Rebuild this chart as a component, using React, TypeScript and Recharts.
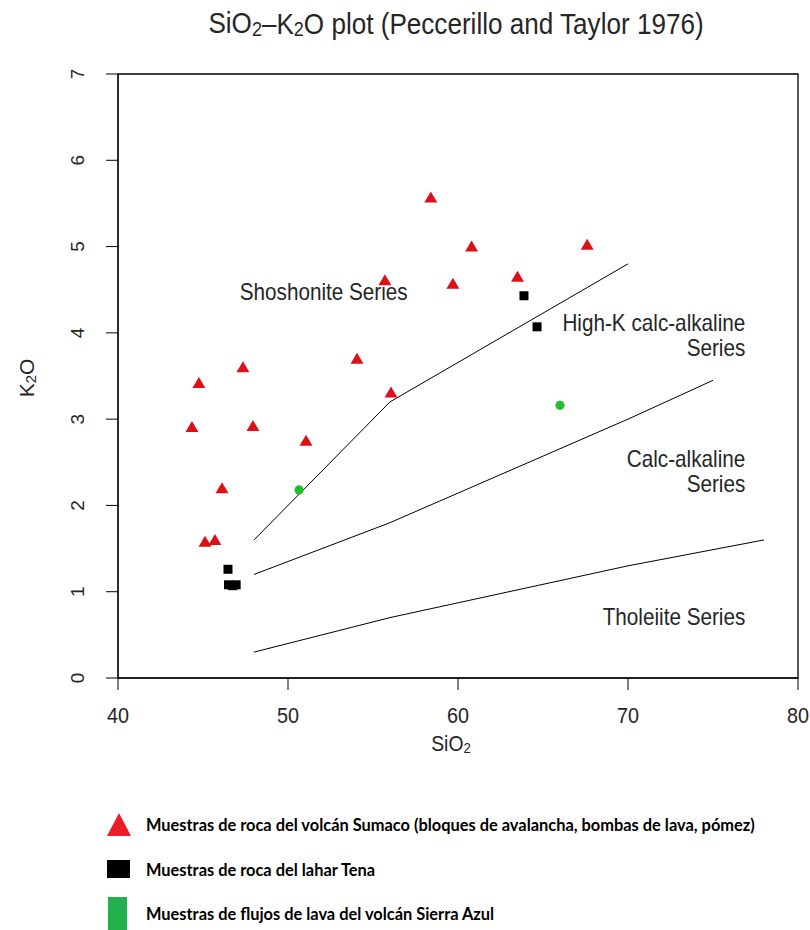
import { ScatterChart, Scatter, XAxis, YAxis, ReferenceArea } from "recharts";

// Muestras (SiO2 %, K2O %)
const sumaco = [
  { x: 44.35, y: 2.91 },
  { x: 44.76, y: 3.42 },
  { x: 45.12, y: 1.58 },
  { x: 45.7, y: 1.6 },
  { x: 46.12, y: 2.2 },
  { x: 47.35, y: 3.6 },
  { x: 47.94, y: 2.92 },
  { x: 51.06, y: 2.75 },
  { x: 54.06, y: 3.7 },
  { x: 55.7, y: 4.61 },
  { x: 56.06, y: 3.31 },
  { x: 58.4, y: 5.57 },
  { x: 59.7, y: 4.57 },
  { x: 60.8, y: 5.0 },
  { x: 63.5, y: 4.65 },
  { x: 67.6, y: 5.02 },
];

const tena = [
  { x: 46.47, y: 1.26 },
  { x: 46.5, y: 1.08 },
  { x: 46.75, y: 1.07 },
  { x: 46.95, y: 1.08 },
  { x: 63.88, y: 4.43 },
  { x: 64.65, y: 4.07 },
];

const sierraAzul = [
  { x: 50.65, y: 2.18 },
  { x: 66.0, y: 3.16 },
];

// Peccerillo & Taylor boundaries
const shoshoniteLine = [
  { x: 48, y: 1.6 },
  { x: 56, y: 3.2 },
  { x: 70, y: 4.8 },
];
const highKLine = [
  { x: 48, y: 1.2 },
  { x: 56, y: 1.8 },
  { x: 70, y: 3.0 },
  { x: 75, y: 3.45 },
];
const tholeiiteLine = [
  { x: 48, y: 0.3 },
  { x: 56, y: 0.7 },
  { x: 70, y: 1.3 },
  { x: 78, y: 1.6 },
];

const fieldLabels = [
  { x: 52.1, y: 4.48, lines: ["Shoshonite Series"], anchor: "middle" },
  { x: 76.9, y: 4.12, lines: ["High-K calc-alkaline", "Series"], anchor: "end" },
  { x: 76.9, y: 2.54, lines: ["Calc-alkaline", "Series"], anchor: "end" },
  { x: 76.9, y: 0.71, lines: ["Tholeiite Series"], anchor: "end" },
];

const xTicks = [40, 50, 60, 70, 80];
const yTicks = [0, 1, 2, 3, 4, 5, 6, 7];

const legendItems = [
  "Muestras de roca del volcán Sumaco (bloques de avalancha, bombas de lava, pómez)",
  "Muestras de roca del lahar Tena",
  "Muestras de flujos de lava del volcán Sierra Azul",
];

const FONT = "'Liberation Sans', Arial, sans-serif";
const TEXT = "#262626";

function Triangle(props: any) {
  const { cx, cy } = props;
  if (cx == null) return <g />;
  return (
    <path
      d={`M${cx},${cy - 6} L${cx + 6.5},${cy + 5} L${cx - 6.5},${cy + 5} Z`}
      fill="#dd1018"
    />
  );
}

function Square(props: any) {
  const { cx, cy } = props;
  if (cx == null) return <g />;
  return <rect x={cx - 4.5} y={cy - 4.5} width={9} height={9} fill="#000" />;
}

function Dot(props: any) {
  const { cx, cy } = props;
  if (cx == null) return <g />;
  return <circle cx={cx} cy={cy} r={4.6} fill="#22c02a" />;
}

function NoDot() {
  return <g />;
}

function FieldLabel(props: any) {
  const { cx, cy, payload } = props;
  if (cx == null) return <g />;
  return (
    <text
      transform={`translate(${cx} ${cy}) scale(0.9 1)`}
      textAnchor={payload.anchor}
      fontFamily={FONT}
      fontSize={23}
      fill={TEXT}
      dominantBaseline="central"
    >
      {payload.lines.map((l: string, i: number) => (
        <tspan key={i} x={0} dy={i === 0 ? 0 : 25}>
          {l}
        </tspan>
      ))}
    </text>
  );
}

function XTick(props: any) {
  const { x, y, payload } = props;
  return (
    <text
      transform={`translate(${x} ${y + 23}) scale(0.88 1)`}
      textAnchor="middle"
      dominantBaseline="central"
      fontFamily={FONT}
      fontSize={22.5}
      fill={TEXT}
    >
      {payload.value}
    </text>
  );
}

function YTick(props: any) {
  const { x, y, payload } = props;
  const tx = x - 27;
  return (
    <text
      transform={`translate(${tx} ${y}) rotate(-90)`}
      textAnchor="middle"
      dominantBaseline="central"
      fontFamily={FONT}
      fontSize={19}
      fill={TEXT}
    >
      {payload.value}
    </text>
  );
}

export default function App() {
  return (
    <div style={{ position: "relative", width: 810, height: 930, background: "#fff", overflow: "hidden" }}>
      <style>{"body{margin:0}"}</style>

      <svg width={810} height={60} style={{ position: "absolute", left: 0, top: 0 }}>
        <text
          transform="translate(456 23) scale(0.9 1)"
          textAnchor="middle"
          dominantBaseline="central"
          fontFamily={FONT}
          fontSize={29}
          fill={TEXT}
        >
          SiO<tspan fontSize={20} dy={6}>2</tspan>
          <tspan dy={-6}>–K</tspan>
          <tspan fontSize={20} dy={6}>2</tspan>
          <tspan dy={-6}>O plot (Peccerillo and Taylor 1976)</tspan>
        </text>
      </svg>

      <ScatterChart
        width={810}
        height={780}
        margin={{ top: 74, right: 12, bottom: 42, left: 0 }}
      >
        <XAxis
          type="number"
          dataKey="x"
          domain={[40, 80]}
          ticks={xTicks}
          allowDataOverflow
          height={60}
          stroke="#000"
          tickSize={12}
          tick={<XTick />}
        />
        <YAxis
          type="number"
          dataKey="y"
          domain={[0, 7]}
          ticks={yTicks}
          allowDataOverflow
          width={118}
          stroke="#000"
          tickSize={12}
          tick={<YTick />}
        />
        <ReferenceArea x1={40} x2={80} y1={0} y2={7} fill="none" stroke="#000" strokeWidth={1.3} />
        <Scatter data={shoshoniteLine} line={{ stroke: "#000", strokeWidth: 1 }} shape={<NoDot />} isAnimationActive={false} />
        <Scatter data={highKLine} line={{ stroke: "#000", strokeWidth: 1 }} shape={<NoDot />} isAnimationActive={false} />
        <Scatter data={tholeiiteLine} line={{ stroke: "#000", strokeWidth: 1 }} shape={<NoDot />} isAnimationActive={false} />
        <Scatter data={fieldLabels} shape={<FieldLabel />} isAnimationActive={false} />
        <Scatter data={sumaco} shape={<Triangle />} isAnimationActive={false} />
        <Scatter data={tena} shape={<Square />} isAnimationActive={false} />
        <Scatter data={sierraAzul} shape={<Dot />} isAnimationActive={false} />
      </ScatterChart>

      <svg width={810} height={150} style={{ position: "absolute", left: 0, top: 330 }}>
        <text
          transform="translate(26 48) rotate(-90)"
          textAnchor="middle"
          dominantBaseline="central"
          fontFamily={FONT}
          fontSize={21}
          fill={TEXT}
        >
          K<tspan fontSize={15} dy={4}>2</tspan>
          <tspan dy={-4}>O</tspan>
        </text>
      </svg>

      <svg width={810} height={40} style={{ position: "absolute", left: 0, top: 725 }}>
        <text
          transform="translate(451 18) scale(0.88 1)"
          textAnchor="middle"
          dominantBaseline="central"
          fontFamily={FONT}
          fontSize={22}
          fill={TEXT}
        >
          SiO<tspan fontSize={15} dy={5}>2</tspan>
        </text>
      </svg>

      <svg width={810} height={150} style={{ position: "absolute", left: 0, top: 780 }}>
        <path d="M119,33 L131,56 L107,56 Z" fill="#ee1c25" />
        <rect x={107} y={80} width={23} height={18} fill="#000" />
        <rect x={108} y={117} width={19} height={33} fill="#22b14c" />
        {legendItems.map((t, i) => (
          <text
            key={i}
            transform={`translate(146 ${45 + i * 44.5}) scale(0.965 1)`}
            dominantBaseline="central"
            fontFamily="Lato, 'Open Sans', sans-serif"
            fontWeight="bold"
            fontSize={17}
            fill="#000"
          >
            {t}
          </text>
        ))}
      </svg>
    </div>
  );
}
